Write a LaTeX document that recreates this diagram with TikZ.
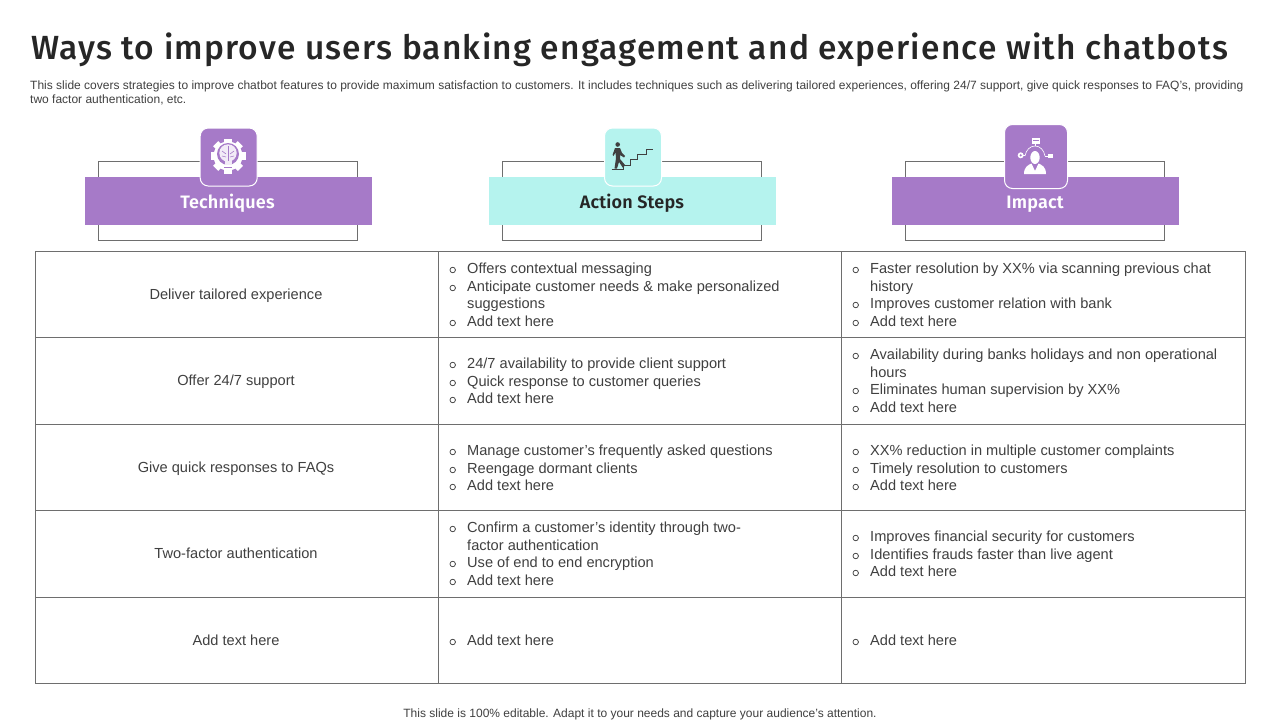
\documentclass[tikz,border=0pt]{standalone}
\usepackage{fontspec}
\setmainfont{Liberation Sans}
\newfontfamily\headfont[LetterSpace=3.55]{Fira Sans Medium}
\newfontfamily\bandfont[LetterSpace=1.0]{Fira Sans SemiBold}
\usetikzlibrary{calc}
\definecolor{purp}{HTML}{A67AC8}
\definecolor{aqua}{HTML}{B5F3EE}
\definecolor{ink}{HTML}{404040}
\definecolor{rulec}{HTML}{6E6E6E}
\newcounter{tn}
\newcommand{\itemtext}[3]{\stepcounter{tn}\node[bodytext,anchor=base west] (t\thetn) at (#1,#2) {#3};}
\newcommand{\bul}[3]{\stepcounter{tn}\node[bullet] (b\thetn) at (#1+14.7,#2-3) {};\node[bodytext,anchor=base west] (t\thetn) at (#1+29,#2) {#3};}
\tikzset{
 x=1pt,y=-1pt,
 bodytext/.style={font=\fontsize{14.6}{17}\selectfont,text=ink,inner sep=0pt},
 bullet/.style={circle,draw=ink,line width=0.75pt,minimum size=5.5pt,inner sep=0pt,outer sep=0pt},
 cell/.style={draw=rulec,line width=1pt,minimum width=403.5pt,minimum height=86.6pt,inner sep=0pt,outer sep=0pt,anchor=north west},
 frameb/.style={draw=rulec,line width=0.9pt,minimum width=259pt,minimum height=79.5pt,inner sep=0pt,outer sep=0pt,anchor=north west},
 band/.style={minimum width=287pt,minimum height=48pt,inner sep=0pt,outer sep=0pt,anchor=north west},
 bandlabel/.style={font=\bandfont\fontsize{18}{20}\selectfont,inner sep=0pt,anchor=base},
 iconbox/.style={draw=white,line width=1pt,rounded corners=8pt,inner sep=0pt,outer sep=0pt},
}
\begin{document}
\begin{tikzpicture}
\useasboundingbox (0,0) rectangle (1280,720);
\fill[white] (0,0) rectangle (1280,720);
% title
\node[anchor=base west,inner sep=0pt,text=black!85,font=\headfont\fontsize{33.5}{40}\selectfont] (title) at (31,59) {Ways to improve users banking engagement and experience with chatbots};
\node[anchor=base west,inner sep=0pt,text=ink,font=\fontsize{12}{14}\selectfont] (sub1) at (30,89) {This slide covers strategies to improve chatbot features to provide maximum satisfaction to customers. It includes techniques such as delivering tailored experiences, offering 24/7 support, give quick responses to FAQ’s, providing};
\node[anchor=base west,inner sep=0pt,text=ink,font=\fontsize{12}{14}\selectfont] (sub2) at (30,103) {two factor authentication, etc.};
% headers
\node[frameb] (f1) at (98.5,161) {};
\node[frameb] (f2) at (502.5,161) {};
\node[frameb] (f3) at (905.5,161) {};
\node[band,fill=purp] (h1) at (85,177) {};
\node[band,fill=aqua] (h2) at (489,177) {};
\node[band,fill=purp] (h3) at (892,177) {};
\node[bandlabel,text=white] (l1) at (227.5,208) {Techniques};
\node[bandlabel,text=black!85] (l2) at (632,208) {Action Steps};
\node[bandlabel,text=white] (l3) at (1035,208) {Impact};
\node[iconbox,fill=purp,minimum width=57pt,minimum height=58pt] (i1) at (228.7,157) {};
\node[iconbox,fill=aqua,minimum width=57pt,minimum height=58pt] (i2) at (633,157) {};
\node[iconbox,fill=purp,minimum width=63pt,minimum height=64pt] (i3) at (1036,156.5) {};
% icon 1: gear with brain bulb
\begin{scope}[shift={(228,156)}]
 \foreach \a in {0,45,...,315}{\fill[white,rotate=\a] (-3.6,-17.5) rectangle (3.6,-10);}
 \fill[white] (0,0) circle (14.5);
 \fill[purp] (0,-2) circle (11);
 \fill[white!85!purp] (0,-3) circle (8.7);
 \fill[purp] (-0.4,-10) rectangle (0.4,6);
 \draw[purp,line width=0.6pt] (-6,-5) -- (-2,-2) (6,-5) -- (2,-2) (-6,0) -- (-2,1) (6,0) -- (2,1);
 \fill[white!85!purp] (-3.5,5) rectangle (3.5,9);
 \fill[white] (-4,9) -- (4,9) -- (3,15.5) -- (-3,15.5) -- cycle;
 \draw[purp,line width=0.5pt] (-4,11.5) -- (4,11.5);
\end{scope}
% icon 2: walker on stairs
\begin{scope}[shift={(560,115)}]
 \draw[black!75,line width=0.8pt] (51.7,54) -- (63.3,54) -- (63.3,50) -- (70,50) -- (70,44.3) -- (77.3,44.3) -- (77.3,39.3) -- (86.7,39.3) -- (86.7,34) -- (92.7,34);
 \fill[black!75] (57.7,29.5) circle (2.3);
 \fill[black!75] (55,33) -- (60,33) -- (62,38) -- (65,41) -- (64,42.5) -- (60,40) -- (60,44) -- (65,50) -- (63,53) -- (59,47) -- (57,53.5) -- (54.5,53.5) -- (56,43) -- (55.5,37.5) -- (53.5,41) -- (52.5,40) -- cycle;
\end{scope}
% icon 3: person with connected items
\begin{scope}[shift={(985,115)}]
 \fill[white] (50,42.5) ellipse (4.7 and 6.5);
 \fill[white] (39,59) .. controls (39,52) and (43,50) .. (46.5,48.5) -- (50,56) -- (53.5,48.5) .. controls (57,50) and (61,52) .. (61,59) -- cycle;
 \draw[white,line width=0.6pt] (40,41) .. controls (41,35) and (45,31) .. (50,31) .. controls (55,31) and (59,35) .. (60,41);
 \draw[white,line width=0.7pt] (50,29) -- (50,31) (38,40.5) -- (40,40.5) (60,41) -- (62.7,41);
 \fill[white] (46.7,22.7) rectangle (55,29);
 \fill[purp] (47.7,24.7) rectangle (54,25.2);
 \fill[white] (62.7,39.3) rectangle (68,43.3);
 \fill[white] (35.7,40.3) circle (3);
 \fill[purp] (35.7,40.3) circle (1.2);
\end{scope}
% table
\foreach \r/\yy/\lbl in {1/251/{Deliver tailored experience},2/337.5/{Offer 24/7 support},3/424/{Give quick responses to FAQs},4/510.5/{Two-factor authentication},5/597/{Add text here}}{
 \node[cell] (c\r a) at (35,\yy) {};
 \node[cell] (c\r b) at (438.2,\yy) {};
 \node[cell] (c\r c) at (841.7,\yy) {};
 \node[bodytext,anchor=base] (c\r l) at (236,\yy+48) {\lbl};
}
% col 2
\bul{438}{273}{Offers contextual messaging}
\bul{438}{291}{Anticipate customer needs \& make personalized}
\itemtext{467}{308}{suggestions}
\bul{438}{326}{Add text here}
\bul{438}{368}{24/7 availability to provide client support}
\bul{438}{386}{Quick response to customer queries}
\bul{438}{403}{Add text here}
\bul{438}{455}{Manage customer’s frequently asked questions}
\bul{438}{473}{Reengage dormant clients}
\bul{438}{490}{Add text here}
\bul{438}{532}{Confirm a customer’s identity through two-}
\itemtext{467}{550}{factor authentication}
\bul{438}{567}{Use of end to end encryption}
\bul{438}{585}{Add text here}
\bul{438}{645}{Add text here}
% col 3
\bul{841}{273}{Faster resolution by XX\% via scanning previous chat}
\itemtext{870}{291}{history}
\bul{841}{308}{Improves customer relation with bank}
\bul{841}{326}{Add text here}
\bul{841}{359}{Availability  during banks holidays and non operational}
\itemtext{870}{377}{hours}
\bul{841}{394}{Eliminates human supervision by XX\%}
\bul{841}{412}{Add text here}
\bul{841}{455}{XX\% reduction in multiple customer complaints}
\bul{841}{473}{Timely resolution to customers}
\bul{841}{490}{Add text here}
\bul{841}{541}{Improves financial security for customers}
\bul{841}{559}{Identifies frauds faster than live agent}
\bul{841}{576}{Add text here}
\bul{841}{645}{Add text here}
% footer
\node[anchor=base,inner sep=0pt,text=ink,font=\fontsize{12}{14}\selectfont] (foot) at (640,717) {This slide is 100\% editable. Adapt it to your needs and capture your audience’s attention.};
\end{tikzpicture}
\end{document}
